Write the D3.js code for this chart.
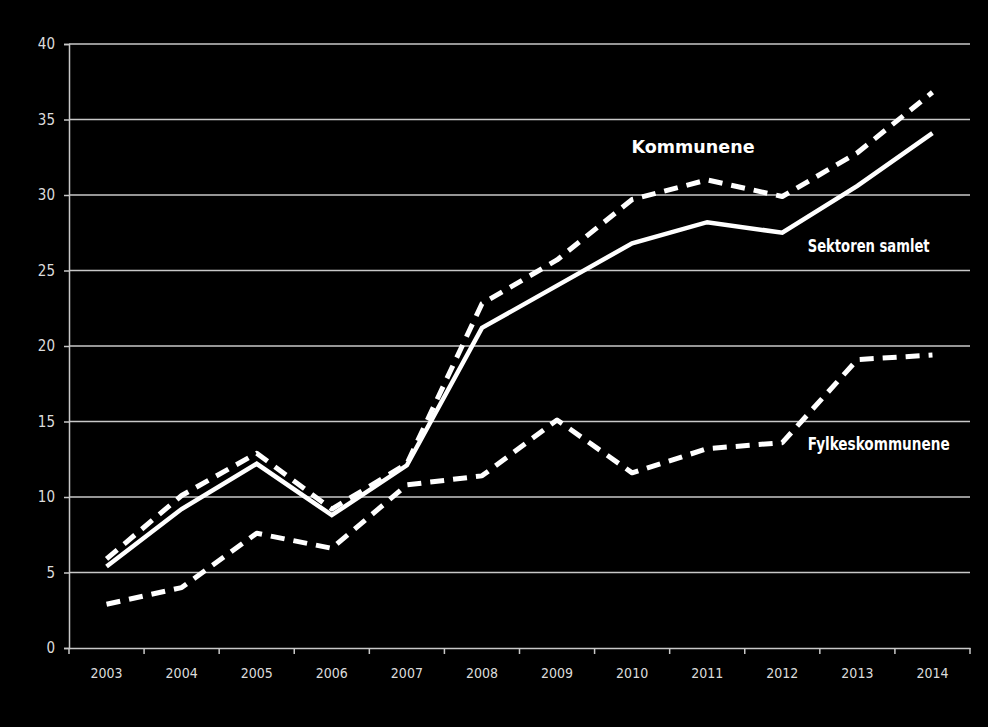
<!DOCTYPE html>
<html><head><meta charset="utf-8">
<script src="https://cdn.jsdelivr.net/npm/d3@7"></script>
<style>html,body{margin:0;padding:0;background:#000;}svg{display:block;}</style>
</head><body>
<svg id="c" width="988" height="727"></svg>
<script>
const years = ["2003","2004","2005","2006","2007","2008","2009","2010","2011","2012","2013","2014"];
const sektoren = [5.4, 9.2, 12.2, 8.8, 12.1, 21.2, 24.0, 26.8, 28.2, 27.5, 30.6, 34.1];
const kommunene = [5.9, 10.1, 12.9, 9.2, 12.2, 22.8, 25.7, 29.7, 31.0, 29.9, 32.8, 36.8];
const fylke = [2.9, 4.0, 7.6, 6.6, 10.8, 11.4, 15.1, 11.6, 13.2, 13.6, 19.1, 19.4];
const yTicks = [0,5,10,15,20,25,30,35,40];
const labels = [
  {text:"Kommunene", year:"2010", val:33.2, dx:37, len:123},
  {text:"Sektoren samlet", year:"2011", val:26.6, dx:138, len:122},
  {text:"Fylkeskommunene", year:"2011", val:13.5, dx:138, len:142}
];

const svg = d3.select("#c");
const m = {l:69, r:18, t:44, b:79};
const W = 988, H = 727;
const x = d3.scaleBand().domain(years).range([m.l, W-m.r]);
const y = d3.scaleLinear().domain([0,40]).range([H-m.b, m.t]);
const font = "'DejaVu Sans Condensed','Liberation Sans',sans-serif";

svg.append("g").selectAll("line").data(yTicks.filter(d=>d>0)).join("line")
  .attr("x1", m.l).attr("x2", W-m.r)
  .attr("y1", d=>y(d)).attr("y2", d=>y(d))
  .attr("stroke","#c8c8c8").attr("stroke-width",1.5);

const ya = svg.append("g").attr("transform",`translate(${m.l},0)`)
  .call(d3.axisLeft(y).tickValues(yTicks).tickSize(5).tickPadding(9));
ya.select(".domain").attr("stroke","#c8c8c8").attr("stroke-width",1.5);
ya.selectAll(".tick line").attr("stroke","#c8c8c8").attr("stroke-width",1.5);
ya.selectAll("text").attr("fill","#dcdcdc").style("font-family",font).style("font-size","15px");

const xa = svg.append("g").attr("transform",`translate(0,${H-m.b})`)
  .call(d3.axisBottom(x).tickSize(0).tickPadding(20));
xa.select(".domain").attr("stroke","#c8c8c8").attr("stroke-width",1.5);
xa.selectAll("text").attr("fill","#dcdcdc").style("font-family",font).style("font-size","14px");
const bounds = years.map(d=>x(d)).concat([W-m.r]);
svg.append("g").selectAll("line").data(bounds).join("line")
  .attr("x1",d=>d).attr("x2",d=>d)
  .attr("y1",H-m.b).attr("y2",H-m.b+6)
  .attr("stroke","#c8c8c8").attr("stroke-width",1.5);

const line = d3.line().x((d,i)=>x(years[i])+x.bandwidth()/2).y(d=>y(d));

svg.append("path").datum(fylke).attr("d",line)
  .attr("fill","none").attr("stroke","#fff").attr("stroke-width",5)
  .attr("stroke-dasharray","14,9").attr("stroke-linejoin","round");
svg.append("path").datum(sektoren).attr("d",line)
  .attr("fill","none").attr("stroke","#fff").attr("stroke-width",4.5);
svg.append("path").datum(kommunene).attr("d",line)
  .attr("fill","none").attr("stroke","#fff").attr("stroke-width",5)
  .attr("stroke-dasharray","14,9").attr("stroke-linejoin","round");

svg.append("g").selectAll("text").data(labels).join("text")
  .attr("x", d=>x(d.year)+d.dx)
  .attr("y", d=>y(d.val))
  .attr("dy","0.35em")
  .attr("textLength", d=>d.len)
  .attr("lengthAdjust","spacingAndGlyphs")
  .attr("fill","#fff")
  .style("font-family",font).style("font-size","17px").style("font-weight","bold")
  .text(d=>d.text);
</script>
</body></html>
